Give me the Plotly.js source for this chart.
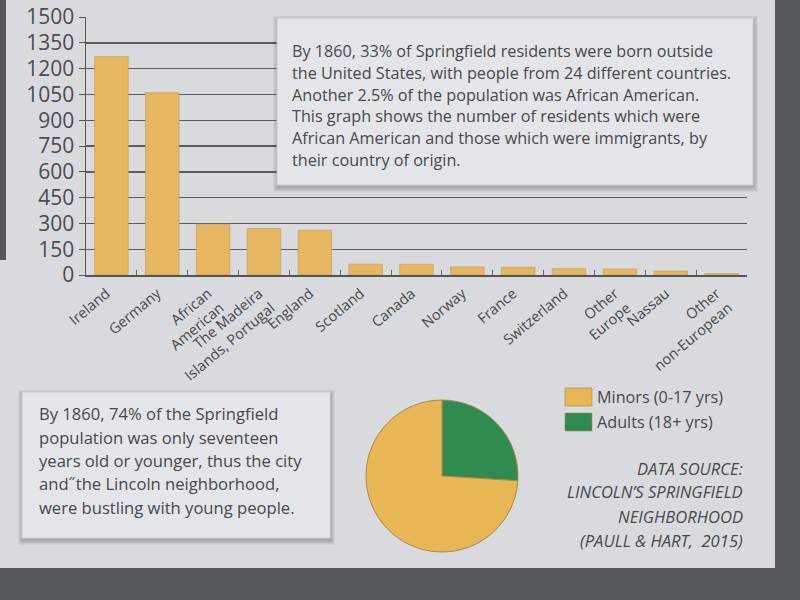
<!DOCTYPE html>
<html>
<head>
<meta charset="utf-8">
<script src="https://cdn.plot.ly/plotly-3.0.1.min.js"></script>
<style>html,body{margin:0;padding:0;background:#55595d;}#chart{width:800px;height:600px;}</style>
</head>
<body>
<div id="chart"></div>
<script>
// ---- data ----
const categories = ['Ireland', 'Germany', 'African<br>American', 'The Madeira<br>Islands, Portugal', 'England',
  'Scotland', 'Canada', 'Norway', 'France', 'Switzerland', 'Other<br>Europe', 'Nassau', 'Other<br>non-European'];
const residents = [1270, 1060, 295, 270, 260, 63, 62, 47, 45, 37, 35, 23, 8];
const yTicks = [0, 150, 300, 450, 600, 750, 900, 1050, 1200, 1350, 1500];

const ageGroups = ['Adults (18+ yrs)', 'Minors (0-17 yrs)'];
const agePercent = [26, 74];
const legendOrder = ['Minors (0-17 yrs)', 'Adults (18+ yrs)'];

const immigrationNote = [
  'By 1860, 33% of Springfield residents were born outside',
  'the United States, with people from 24 different countries.',
  'Another 2.5% of the population was African American.',
  'This graph shows the number of residents which were',
  'African American and those which were immigrants, by',
  'their country of origin.'
];
const ageNote = [
  'By 1860, 74% of the Springfield',
  'population was only seventeen',
  'years old or younger, thus the city',
  'and\u02DDthe Lincoln neighborhood,',
  'were bustling with young people.'
];
const sourceNote = [
  'DATA SOURCE:',
  'LINCOLN\u2019S SPRINGFIELD',
  'NEIGHBORHOOD',
  '(PAULL & HART,  2015)'
];

// ---- styling ----
const W = 800, H = 600;
const px = x => x / W;
const py = y => 1 - y / H;
const barColor = '#e6b660';
const pieColors = {'Minors (0-17 yrs)': '#e8b655', 'Adults (18+ yrs)': '#2f8b50'};
const textColor = '#47494c';
const signColor = '#d9dade';
const boxColor = '#e4e5e8';
const font = '"Open Sans", "Noto Sans", sans-serif';

const traces = [
  {
    type: 'bar', x: categories, y: residents,
    marker: {color: barColor, line: {color: '#c19c50', width: 0.6}},
    showlegend: false, hoverinfo: 'x+y', xaxis: 'x', yaxis: 'y'
  },
  {
    type: 'pie', labels: ageGroups, values: agePercent,
    marker: {colors: ageGroups.map(g => pieColors[g]), line: {color: '#a88a45', width: 1}},
    sort: false, direction: 'clockwise', rotation: 0,
    textinfo: 'none', showlegend: false,
    domain: {x: [px(366), px(518)], y: [py(552), py(400)]}
  }
];

const shapes = [];
const annotations = [];

// sign panel
shapes.push({type: 'rect', xref: 'paper', yref: 'paper', x0: px(0), x1: px(775), y0: py(568), y1: py(0),
  fillcolor: signColor, line: {width: 0}, layer: 'below'});
shapes.push({type: 'rect', xref: 'paper', yref: 'paper', x0: px(0), x1: px(6), y0: py(260), y1: py(0),
  fillcolor: '#55595d', line: {width: 0}, layer: 'below'});

function box(x0, y0, x1, y1) {
  for (let i = 5; i >= 1; i--) {
    shapes.push({type: 'rect', xref: 'paper', yref: 'paper',
      x0: px(x0 - i + 1), x1: px(x1 + i), y0: py(y1 + i + 2), y1: py(y0 - i + 3),
      fillcolor: 'rgba(60,65,75,0.07)', line: {width: 0}, layer: 'above'});
  }
  shapes.push({type: 'rect', xref: 'paper', yref: 'paper', x0: px(x0), x1: px(x1), y0: py(y1), y1: py(y0),
    fillcolor: boxColor, line: {color: '#cacbcf', width: 1}, layer: 'above'});
}
box(277, 18, 753, 185);
box(22, 392, 330, 538);

immigrationNote.forEach((t, i) => annotations.push({
  text: t, xref: 'paper', yref: 'paper', x: px(290), y: py(51 + i * 21.8),
  xanchor: 'left', yanchor: 'middle', showarrow: false,
  font: {family: font, size: 16.2, color: textColor}
}));
ageNote.forEach((t, i) => annotations.push({
  text: t, xref: 'paper', yref: 'paper', x: px(37), y: py(414 + i * 23.3),
  xanchor: 'left', yanchor: 'middle', showarrow: false,
  font: {family: font, size: 16.6, color: textColor}
}));
sourceNote.forEach((t, i) => annotations.push({
  text: '<i>' + t + '</i>', xref: 'paper', yref: 'paper', x: px(745), y: py(468 + i * 24),
  xanchor: 'right', yanchor: 'middle', showarrow: false,
  font: {family: font, size: 16.6, color: textColor}
}));

// legend for the pie
legendOrder.forEach((g, i) => {
  const top = 388 + i * 25;
  shapes.push({type: 'rect', xref: 'paper', yref: 'paper', x0: px(565), x1: px(592), y0: py(top + 18), y1: py(top),
    fillcolor: pieColors[g], line: {color: '#9a8a60', width: 0.6}});
  annotations.push({text: g, xref: 'paper', yref: 'paper', x: px(595), y: py(top + 9),
    xanchor: 'left', yanchor: 'middle', showarrow: false,
    font: {family: font, size: 16.2, color: textColor}});
});

const layout = {
  width: W, height: H,
  margin: {l: 0, r: 0, t: 0, b: 0},
  paper_bgcolor: '#55595d',
  plot_bgcolor: 'rgba(0,0,0,0)',
  showlegend: false,
  bargap: 0.34,
  xaxis: {
    domain: [px(86), px(747)],
    anchor: 'y',
    tickangle: -40,
    ticks: 'inside', tickson: 'boundaries', ticklen: 5, tickcolor: '#666',
    showline: true, linecolor: '#555', linewidth: 1.5,
    tickfont: {family: font, size: 14.5, color: textColor},
    ticklabelshift: -5, ticklabelstandoff: 3,
    showgrid: false, fixedrange: true
  },
  yaxis: {
    domain: [py(275), py(17)],
    anchor: 'x',
    range: [0, 1500],
    tickvals: yTicks,
    ticks: 'outside', ticklen: 6, tickcolor: '#555',
    showline: true, linecolor: '#555', linewidth: 1.5,
    showgrid: true, gridcolor: '#5a5c60', gridwidth: 1.4,
    zeroline: false,
    tickfont: {family: font, size: 21, color: '#4a4c50'},
    fixedrange: true
  },
  shapes: shapes,
  annotations: annotations
};

Plotly.newPlot('chart', traces, layout, {displayModeBar: false, staticPlot: true});
</script>
</body>
</html>
